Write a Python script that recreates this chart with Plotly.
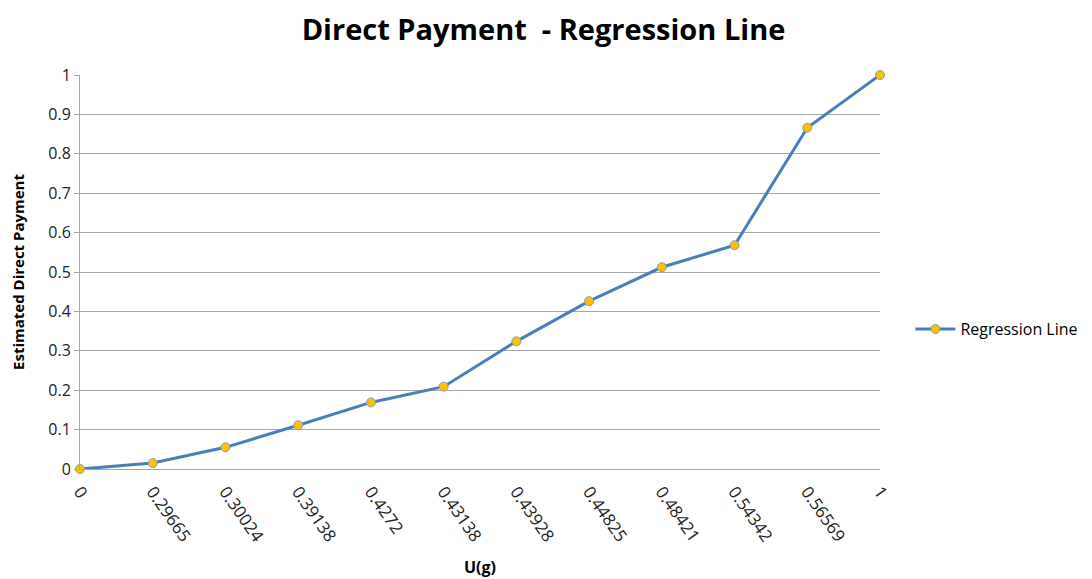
import plotly.graph_objects as go

categories = ["0", "0.29665", "0.30024", "0.39138", "0.4272", "0.43138",
              "0.43928", "0.44825", "0.48421", "0.54342", "0.56569", "1"]
values = [0.0, 0.015, 0.055, 0.111, 0.169, 0.209, 0.324, 0.426, 0.512, 0.568, 0.866, 1.0]
y_ticks = [0, 0.1, 0.2, 0.3, 0.4, 0.5, 0.6, 0.7, 0.8, 0.9, 1]
y_tick_text = ["0", "0.1", "0.2", "0.3", "0.4", "0.5", "0.6", "0.7", "0.8", "0.9", "1"]

FONT = "Open Sans, Liberation Sans, sans-serif"

fig = go.Figure()
fig.add_trace(go.Scatter(
    x=categories, y=values, mode="lines+markers", name="Regression Line",
    line=dict(color="#4a7ebb", width=3),
    marker=dict(color="#ffc000", size=9, line=dict(color="#7f9fbf", width=1)),
    cliponaxis=False,
))

fig.update_layout(
    width=1084, height=571,
    paper_bgcolor="white", plot_bgcolor="white",
    margin=dict(l=72, r=212, t=67, b=110, autoexpand=False),
    title=dict(text="<b>Direct Payment  - Regression Line</b>", x=0.494, xanchor="center",
               y=0.961, yanchor="middle",
               font=dict(family=FONT, size=29, color="black")),
    font=dict(family=FONT, color="black"),
    showlegend=True,
    legend=dict(x=1.038, y=0.355, xanchor="left", yanchor="middle",
                itemwidth=40,
                font=dict(family=FONT, size=16, color="black")),
)
fig.update_xaxes(
    type="category", categoryorder="array", categoryarray=categories,
    range=[0, len(categories) - 1], automargin=False,
    tickangle=55, tickfont=dict(size=17, color="#222222"),
    ticklabelstandoff=5,
    showgrid=False, showline=True, linecolor="#a6a6a6", linewidth=1,
    ticks="",
    title=dict(text="<b>U(g)</b>", font=dict(size=16, color="black"), standoff=16),
)
fig.update_yaxes(
    range=[0, 1], tickvals=y_ticks, ticktext=y_tick_text, automargin=False,
    tickfont=dict(size=16, color="#222222"),
    showgrid=True, gridcolor="#a6a6a6", gridwidth=1,
    showline=True, linecolor="#a6a6a6", linewidth=1,
    ticks="outside", ticklen=5, tickcolor="#a6a6a6",
    zeroline=False,
    title=dict(text="<b>Estimated Direct Payment</b>", font=dict(size=15, color="black"), standoff=22),
)

fig.write_html("out.html")
